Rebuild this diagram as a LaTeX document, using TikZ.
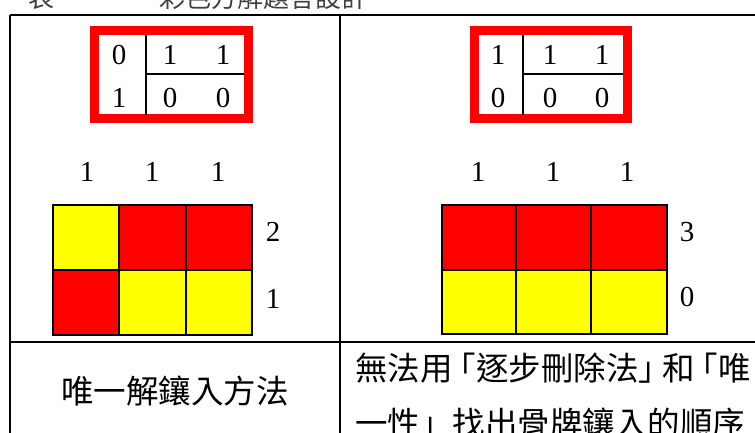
\documentclass[tikz,border=0pt]{standalone}
\usepackage{fontspec}
\setmainfont{Liberation Serif}
\newfontfamily\cjk{Noto Sans CJK TC}
\definecolor{cred}{HTML}{FF0000}
\definecolor{cyel}{HTML}{FFFF00}
\newcommand{\lbrk}{\kern-9pt「}
\newcommand{\rbrk}{」\kern-9pt}
\tikzset{
  tblline/.style={line width=2.6pt, black},
  redframe/.style={line width=9pt, draw=cred},
  innerline/.style={line width=2pt, black},
  gridline/.style={line width=2.2pt, black},
  digit/.style={inner sep=0pt, font=\fontsize{29}{33}\selectfont},
  cjktext/.style={inner sep=0pt, font=\cjk\fontsize{32.5}{40}\selectfont},
  titletext/.style={inner sep=0pt, font=\cjk\fontsize{26}{30}\selectfont, text=black!75},
}
\begin{document}
\begin{tikzpicture}[x=1pt,y=-1pt]
\useasboundingbox (0,0) rectangle (755,432);
\clip (0,0) rectangle (755,432);
% cut-off caption
\node[titletext, anchor=base] (t1) at (41,7.5) {表};
\node[titletext, anchor=base] (t2) at (263,7.5) {彩色方解題答設計};
% table
\draw[tblline] (10,15) -- (770,15);
\draw[tblline] (10,342) -- (770,342);
\draw[tblline] (10,15) -- (10,445);
\draw[tblline] (340,15) -- (340,445);

% ---- left red box
\draw[redframe] (94.5,30.5) rectangle (248.5,118.5);
\draw[innerline] (146,35) -- (146,115);
\draw[innerline] (146,74) -- (244,74);
\node[digit] (la1) at (119,55) {0};
\node[digit] (la2) at (170,55) {1};
\node[digit] (la3) at (223,55) {1};
\node[digit] (lb1) at (119,98) {1};
\node[digit] (lb2) at (170,98) {0};
\node[digit] (lb3) at (223,98) {0};

% ---- right red box
\draw[redframe] (474.5,30.5) rectangle (627.5,118.5);
\draw[innerline] (523,35) -- (523,115);
\draw[innerline] (523,74) -- (623,74);
\node[digit] (ra1) at (498,55) {1};
\node[digit] (ra2) at (550,55) {1};
\node[digit] (ra3) at (602,55) {1};
\node[digit] (rb1) at (498,98) {0};
\node[digit] (rb2) at (550,98) {0};
\node[digit] (rb3) at (602,98) {0};

% ---- left column labels
\node[digit] (lc1) at (87,172) {1};
\node[digit] (lc2) at (152,172) {1};
\node[digit] (lc3) at (218,172) {1};
% left grid
\fill[cyel] (53,205) rectangle (119,270);
\fill[cred] (119,205) rectangle (252,270);
\fill[cred] (53,270) rectangle (119,335);
\fill[cyel] (119,270) rectangle (252,335);
\draw[gridline] (53,205) rectangle (252,335);
\draw[gridline] (119,205) -- (119,335);
\draw[gridline] (186,205) -- (186,335);
\draw[gridline] (53,270) -- (252,270);
\node[digit] (lr1) at (273,232) {2};
\node[digit] (lr2) at (273,299) {1};

% ---- right column labels
\node[digit] (rc1) at (478,172) {1};
\node[digit] (rc2) at (553,172) {1};
\node[digit] (rc3) at (627,172) {1};
% right grid
\fill[cred] (442,205) rectangle (667,270);
\fill[cyel] (442,270) rectangle (667,334);
\draw[gridline] (442,205) rectangle (667,334);
\draw[gridline] (516,205) -- (516,334);
\draw[gridline] (591,205) -- (591,334);
\draw[gridline] (442,270) -- (667,270);
\node[digit] (rr1) at (687,232) {3};
\node[digit] (rr2) at (687,297) {0};

% ---- bottom texts
\node[cjktext] (bl) at (175,391) {唯一解鑲入方法};
\node[cjktext, anchor=west] (br1) at (355,368) {無法用\lbrk 逐步刪除法\rbrk 和\lbrk 唯};
\node[cjktext, anchor=west] (br2) at (355,423) {一性」找出骨牌鑲入的順序};
\end{tikzpicture}
\end{document}
